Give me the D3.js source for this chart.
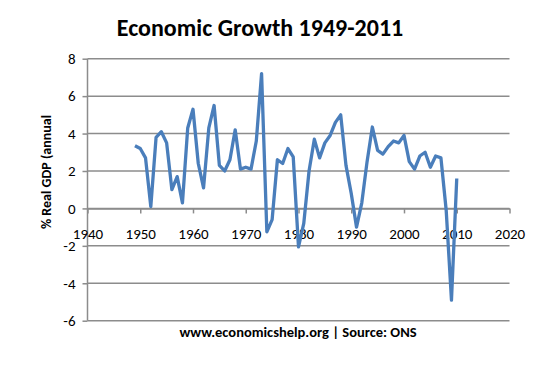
<!DOCTYPE html>
<html lang="en">
<head>
<meta charset="utf-8">
<title>Economic Growth 1949-2011</title>
<style>
body { margin: 0; background: #fff; }
text { font-family: Calibri, Carlito, "Open Sans", sans-serif; }
.grid line { stroke: #8c8c8c; stroke-width: 1.5; }
.axis path, .axis line { stroke: #8c8c8c; stroke-width: 1.5; }
.axis text { font-size: 15px; fill: #000; }
.line { fill: none; stroke: #4a7ebb; stroke-width: 3.3; stroke-linejoin: round; }
</style>
</head>
<body>
<svg width="558" height="365"></svg>
<script src="https://cdn.jsdelivr.net/npm/d3@7"></script>
<script>

var years = [1949, 1950, 1951, 1952, 1953, 1954, 1955, 1956, 1957, 1958,
             1959, 1960, 1961, 1962, 1963, 1964, 1965, 1966, 1967, 1968,
             1969, 1970, 1971, 1972, 1973, 1974, 1975, 1976, 1977, 1978,
             1979, 1980, 1981, 1982, 1983, 1984, 1985, 1986, 1987, 1988,
             1989, 1990, 1991, 1992, 1993, 1994, 1995, 1996, 1997, 1998,
             1999, 2000, 2001, 2002, 2003, 2004, 2005, 2006, 2007, 2008,
             2009, 2010];
var growth = [3.35, 3.2, 2.7, 0.1, 3.8, 4.1, 3.5, 1.0, 1.7, 0.3,
              4.3, 5.3, 2.4, 1.1, 4.3, 5.5, 2.3, 2.0, 2.6, 4.2,
              2.1, 2.2, 2.1, 3.6, 7.2, -1.25, -0.6, 2.6, 2.4, 3.2,
              2.75, -2.05, -0.8, 2.0, 3.7, 2.7, 3.5, 3.9, 4.6, 5.0,
              2.3, 0.8, -1.0, 0.3, 2.5, 4.35, 3.1, 2.9, 3.3, 3.6,
              3.5, 3.9, 2.5, 2.1, 2.8, 3.0, 2.2, 2.8, 2.7, -0.1,
              -4.9, 1.6];
var xTicks = [1940, 1950, 1960, 1970, 1980, 1990, 2000, 2010, 2020];
var yTicks = [-6, -4, -2, 0, 2, 4, 6, 8];

var svg = d3.select("svg");

var x = d3.scaleLinear().domain([1940, 2020]).range([87.5, 509.5]),
    y = d3.scaleLinear().domain([-6, 8]).range([320.7, 58.7]);

// horizontal gridlines
svg.append("g")
    .attr("class", "grid")
  .selectAll("line")
  .data(yTicks)
  .enter().append("line")
    .attr("x1", x(1940))
    .attr("x2", x(2020))
    .attr("y1", function(d) { return y(d); })
    .attr("y2", function(d) { return y(d); });

// y axis (plain hyphen for negatives, like the original)
var yAxis = svg.append("g")
    .attr("class", "axis")
    .attr("transform", "translate(" + x(1940) + ",0)")
    .call(d3.axisLeft(y).tickValues(yTicks)
          .tickFormat(function(d) { return String(d); })
          .tickSize(5).tickSizeOuter(0).tickPadding(7));
yAxis.select(".domain").attr("d", "M0," + y(8) + "V" + y(-6));

// x axis sits on the zero line
var xAxis = svg.append("g")
    .attr("class", "axis")
    .attr("transform", "translate(0," + y(0) + ")")
    .call(d3.axisBottom(x).tickValues(xTicks).tickFormat(d3.format("d"))
          .tickSize(5).tickSizeOuter(0).tickPadding(15));

// data line
var pts = years.map(function(yr, i) { return [yr, growth[i]]; });
svg.append("path")
    .datum(pts)
    .attr("class", "line")
    .attr("d", d3.line()
        .x(function(d) { return x(d[0]); })
        .y(function(d) { return y(d[1]); }));

// title
svg.append("text")
    .attr("x", 260)
    .attr("y", 36)
    .attr("text-anchor", "middle")
    .style("font-size", "24px")
    .style("font-weight", "bold")
    .text("Economic Growth 1949-2011");

// y axis title
svg.append("text")
    .attr("transform", "translate(51,172) rotate(-90)")
    .attr("text-anchor", "middle")
    .style("font-size", "14px")
    .style("font-weight", "bold")
    .text("% Real GDP (annual");

// footer
svg.append("text")
    .attr("x", 298)
    .attr("y", 337)
    .attr("text-anchor", "middle")
    .style("font-size", "14.5px")
    .style("font-weight", "bold")
    .text("www.economicshelp.org | Source: ONS");

</script>
</body>
</html>
